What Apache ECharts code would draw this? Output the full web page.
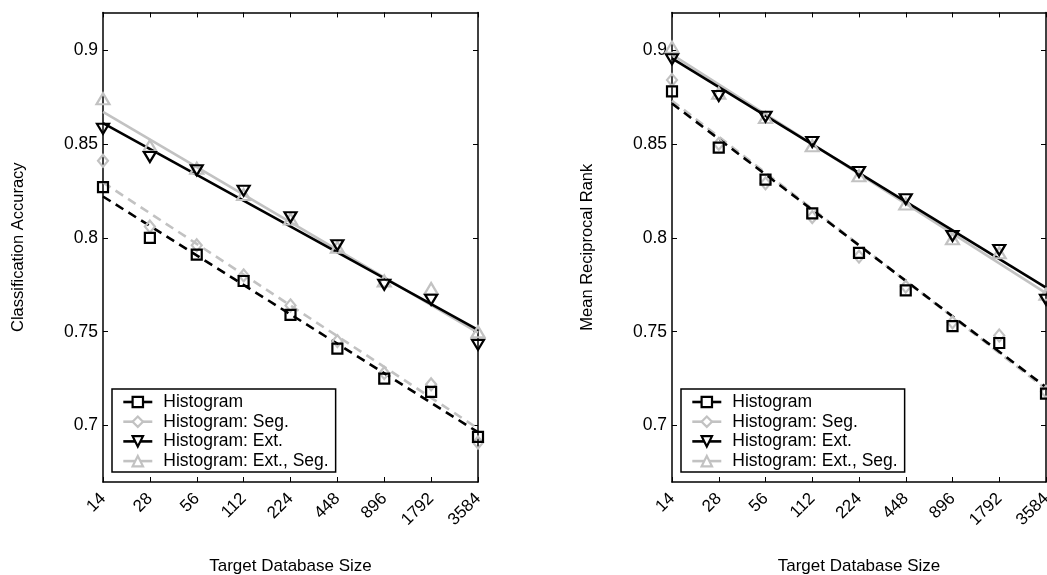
<!DOCTYPE html>
<html>
<head>
<meta charset="utf-8">
<script src="https://cdn.jsdelivr.net/npm/echarts@6/dist/echarts.min.js"></script>
<style>
  html, body { margin: 0; padding: 0; background: #fff; }
  #chart { width: 1047px; height: 575px; }
</style>
</head>
<body>
<div id="chart"></div>
<script>
// Target database sizes (log2-spaced categories)
const sizes = ['14', '28', '56', '112', '224', '448', '896', '1792', '3584'];
const yTicks = [0.7, 0.75, 0.8, 0.85, 0.9];

// Classification accuracy per method
const accHist    = [0.827, 0.800, 0.791, 0.777, 0.759, 0.741, 0.725, 0.718, 0.694];
const accSeg     = [0.841, 0.806, 0.796, 0.780, 0.764, 0.745, 0.728, 0.722, 0.691];
const accExt     = [0.858, 0.843, 0.836, 0.825, 0.811, 0.796, 0.775, 0.767, 0.743];
const accExtSeg  = [0.874, 0.849, 0.837, 0.823, 0.810, 0.795, 0.777, 0.773, 0.750];

// Mean reciprocal rank per method
const mrrHist    = [0.878, 0.848, 0.831, 0.813, 0.792, 0.772, 0.753, 0.744, 0.717];
const mrrSeg     = [0.884, 0.850, 0.829, 0.811, 0.790, 0.774, 0.755, 0.748, 0.718];
const mrrExt     = [0.895, 0.8755, 0.8645, 0.851, 0.835, 0.8205, 0.801, 0.7935, 0.767];
const mrrExtSeg  = [0.9015, 0.877, 0.864, 0.849, 0.833, 0.818, 0.7995, 0.792, 0.770];

// Linear trend lines: value at the first and last size
const accHistFit   = [0.822, 0.6965];
const accSegFit    = [0.8295, 0.6985];
const accExtFit    = [0.861, 0.751];
const accExtSegFit = [0.867, 0.7495];
const mrrHistFit   = [0.8715, 0.7205];
const mrrSegFit    = [0.873, 0.7195];
const mrrExtFit    = [0.8955, 0.7735];
const mrrExtSegFit = [0.8975, 0.7705];

const BLACK = '#000000';
const GRAY = '#c2c2c2';
const FONT = 'Liberation Sans, Arial, Helvetica, sans-serif';
const DOWN_TRI = 'path://M0,0 L12,0 L6,10 Z';

const methods = [
  { name: 'Histogram',              color: BLACK, symbol: 'rect',     size: 10,       dash: [9, 6] },
  { name: 'Histogram: Seg.',        color: GRAY,  symbol: 'diamond',  size: [10, 12], dash: [9, 6] },
  { name: 'Histogram: Ext.',        color: BLACK, symbol: DOWN_TRI,   size: [12, 10], dash: 'solid' },
  { name: 'Histogram: Ext., Seg.',  color: GRAY,  symbol: 'triangle', size: [13, 11], dash: 'solid' }
];

const panels = [
  { values: [accHist, accSeg, accExt, accExtSeg], fits: [accHistFit, accSegFit, accExtFit, accExtSegFit] },
  { values: [mrrHist, mrrSeg, mrrExt, mrrExtSeg], fits: [mrrHistFit, mrrSegFit, mrrExtFit, mrrExtSegFit] }
];
const yNames = ['Classification Accuracy', 'Mean Reciprocal Rank'];
const gridLeft = [103, 672];
const gridWidth = [375, 374];
const legendLeft = [112, 681];

const Y_MIN = 0.67, Y_MAX = 0.92;
const fmtY = v => String(+v.toFixed(2));

const grid = [], xAxis = [], yAxis = [], series = [], legend = [];

// draw order: gray first so black sits on top
const drawOrder = [3, 1, 2, 0];

panels.forEach((p, gi) => {
  grid.push({
    left: gridLeft[gi], top: 12.4, width: gridWidth[gi], height: 469.6,
    containLabel: false, outerBoundsMode: 'none'
  });

  const axisLine = { show: true, lineStyle: { color: BLACK, width: 1.5 } };
  xAxis.push({
    type: 'category', gridIndex: gi, data: sizes, boundaryGap: false, position: 'bottom',
    axisLine, axisTick: { inside: true, length: 5, lineStyle: { color: BLACK, width: 1 } },
    axisLabel: { rotate: 45, margin: 14, color: BLACK, fontSize: 17, fontFamily: FONT },
    splitLine: { show: false },
    name: 'Target Database Size', nameLocation: 'middle', nameGap: 76,
    nameTextStyle: { color: BLACK, fontSize: 17, fontFamily: FONT }
  });
  xAxis.push({
    type: 'category', gridIndex: gi, data: sizes, boundaryGap: false, position: 'top',
    axisLine, axisTick: { inside: true, length: 5, lineStyle: { color: BLACK, width: 1 } },
    axisLabel: { show: false }, splitLine: { show: false }
  });
  yAxis.push({
    type: 'value', gridIndex: gi, min: Y_MIN, max: Y_MAX, position: 'left',
    axisLine, splitLine: { show: false },
    axisTick: { show: true, inside: true, length: 5, customValues: yTicks, lineStyle: { color: BLACK, width: 1 } },
    axisLabel: { show: true, customValues: yTicks, formatter: fmtY, margin: 5, color: BLACK, fontSize: 17.5, fontFamily: FONT },
    name: yNames[gi], nameLocation: 'middle', nameGap: 76,
    nameTextStyle: { color: BLACK, fontSize: 16.5, fontFamily: FONT }
  });
  yAxis.push({
    type: 'value', gridIndex: gi, min: Y_MIN, max: Y_MAX, position: 'right',
    axisLine, splitLine: { show: false },
    axisTick: { show: true, inside: true, length: 5, customValues: yTicks, lineStyle: { color: BLACK, width: 1 } },
    axisLabel: { show: false }
  });

  const xi = gi * 2, yi = gi * 2;

  // trend lines
  drawOrder.forEach(mi => {
    const m = methods[mi];
    const f = p.fits[mi];
    series.push({
      type: 'line', name: 'trend ' + m.name, xAxisIndex: xi, yAxisIndex: yi,
      data: [[sizes[0], f[0]], [sizes[sizes.length - 1], f[1]]],
      showSymbol: false, symbol: 'none', silent: true, clip: false,
      lineStyle: { color: m.color, width: 2.6, type: m.dash },
      z: m.color === BLACK ? 3 : 2
    });
  });

  // measured points
  drawOrder.forEach(mi => {
    const m = methods[mi];
    series.push({
      type: 'line', name: m.name, xAxisIndex: xi, yAxisIndex: yi,
      data: p.values[mi],
      symbol: m.symbol, symbolSize: m.size, showSymbol: true, showAllSymbol: true, clip: false,
      lineStyle: { width: 0, opacity: 0 },
      itemStyle: { color: 'rgba(0,0,0,0)', borderColor: m.color, borderWidth: 2.2 },
      emphasis: { disabled: true },
      z: m.color === BLACK ? 5 : 4
    });
  });

  legend.push({
    orient: 'vertical', left: legendLeft[gi], top: 389,
    backgroundColor: '#ffffff', borderColor: BLACK, borderWidth: 1.5,
    padding: [4, 7, 2, 10],
    itemWidth: 29, itemHeight: 13, itemGap: 1.7,
    selectedMode: false, z: 10,
    textStyle: { color: BLACK, fontSize: 17.5, fontFamily: FONT, lineHeight: 17, padding: [0, 0, 0, 6] },
    data: methods.map(m => ({
      name: m.name,
      itemStyle: { color: '#ffffff', borderColor: m.color, borderWidth: 2.2, opacity: 1 },
      lineStyle: { color: m.color, width: 2.6, type: 'solid', opacity: 1 }
    }))
  });
});

const chart = echarts.init(document.getElementById('chart'), null, { renderer: 'canvas' });
chart.setOption({
  backgroundColor: '#ffffff',
  animation: false,
  grid, xAxis, yAxis, series, legend
});
</script>
</body>
</html>
